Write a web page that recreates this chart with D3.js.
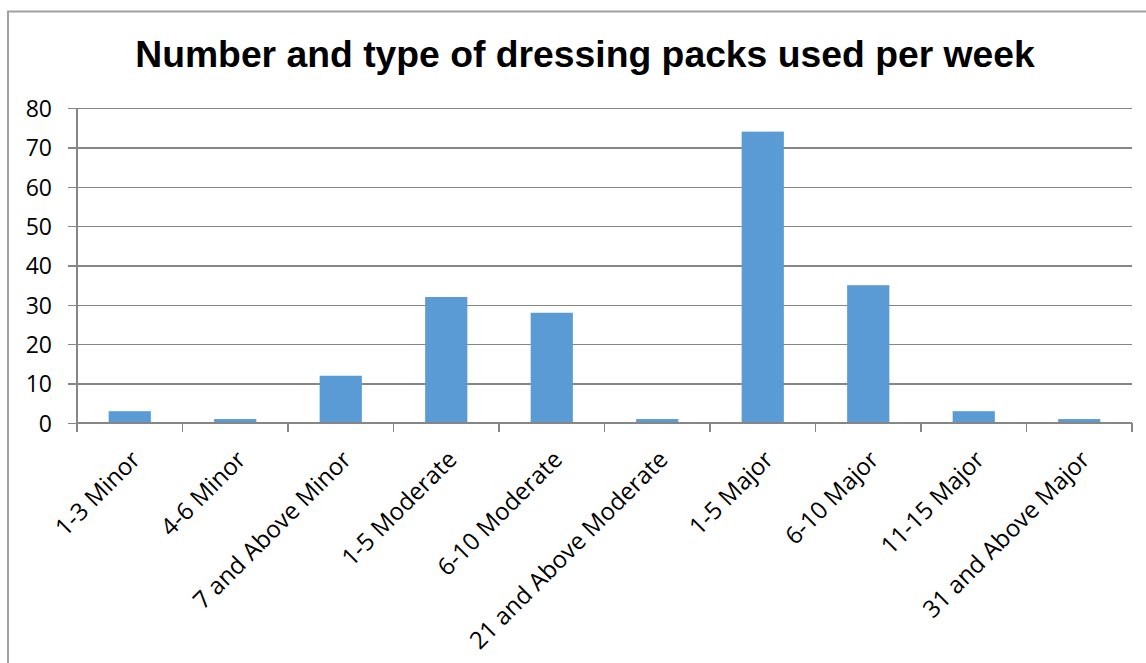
<!DOCTYPE html>
<html>
<head>
<meta charset="utf-8">
<script src="https://cdn.jsdelivr.net/npm/d3@7"></script>
<style>
  html, body { margin: 0; padding: 0; background: #fff; }
  svg { display: block; }
</style>
</head>
<body>
<svg id="chart" width="1146" height="663"></svg>
<script>
// Dressing pack usage per week, by pack size and type
const categories = [
  "1-3 Minor", "4-6 Minor", "7 and Above Minor",
  "1-5 Moderate", "6-10 Moderate", "21 and Above Moderate",
  "1-5 Major", "6-10 Major", "11-15 Major", "31 and Above Major"
];
const packCounts = [3, 1, 12, 32, 28, 1, 74, 35, 3, 1];
const yTicks = [0, 10, 20, 30, 40, 50, 60, 70, 80];
const chartTitle = "Number and type of dressing packs used per week";

const svg = d3.select("#chart");
const plot = { left: 77, right: 1132, top: 108, bottom: 423 };
const gridColor = "#868686";
const barColor = "#5B9BD5";
const labelFont = "'Open Sans', 'Liberation Sans', sans-serif";

// Chart frame (extends past the right and bottom edges of the view)
svg.append("rect")
  .attr("x", 8).attr("y", 11.5)
  .attr("width", 1160).attr("height", 700)
  .attr("fill", "#fff")
  .attr("stroke", "#a0a0a0")
  .attr("stroke-width", 2);

// Title
svg.append("text")
  .attr("x", 585).attr("y", 67)
  .attr("text-anchor", "middle")
  .attr("font-family", "'Liberation Sans', Arial, sans-serif")
  .attr("font-weight", "bold")
  .attr("font-size", 37.3)
  .attr("fill", "#000")
  .text(chartTitle);

const x = d3.scaleBand()
  .domain(categories)
  .range([plot.left, plot.right])
  .padding(0);

const y = d3.scaleLinear()
  .domain([0, 80])
  .range([plot.bottom, plot.top]);

// Horizontal gridlines with short ticks left of the axis
const yAxis = d3.axisLeft(y)
  .tickValues(yTicks)
  .tickSize(-(plot.right - plot.left))
  .tickPadding(0)
  .tickFormat(d3.format("d"));

const gy = svg.append("g")
  .attr("transform", `translate(${plot.left},0)`)
  .call(yAxis);
gy.select(".domain").remove();
gy.selectAll(".tick line")
  .attr("x1", -9)
  .attr("stroke", gridColor)
  .attr("stroke-width", 1.3)
  .attr("shape-rendering", "crispEdges");
gy.selectAll(".tick text")
  .attr("x", -25)
  .attr("dy", "0.36em")
  .attr("font-family", labelFont)
  .attr("font-size", 23)
  .attr("fill", "#000");

// Vertical axis line
svg.append("line")
  .attr("x1", plot.left).attr("x2", plot.left)
  .attr("y1", plot.top).attr("y2", plot.bottom)
  .attr("stroke", gridColor)
  .attr("stroke-width", 1.3)
  .attr("shape-rendering", "crispEdges");

// Bars
const barFrac = 0.4;
svg.append("g")
  .selectAll("rect")
  .data(categories)
  .join("rect")
  .attr("x", (d) => x(d) + x.bandwidth() * (1 - barFrac) / 2)
  .attr("width", x.bandwidth() * barFrac)
  .attr("y", (d, i) => y(packCounts[i]))
  .attr("height", (d, i) => y(0) - y(packCounts[i]))
  .attr("fill", barColor);

// Category axis: baseline and boundary ticks
const gx = svg.append("g")
  .attr("transform", `translate(0,${plot.bottom})`);
gx.append("line")
  .attr("x1", plot.left).attr("x2", plot.right)
  .attr("stroke", gridColor)
  .attr("stroke-width", 1.3)
  .attr("shape-rendering", "crispEdges");
const boundaries = categories.map((d) => x(d)).concat([plot.right]);
gx.selectAll("line.tick")
  .data(boundaries)
  .join("line")
  .attr("class", "tick")
  .attr("x1", (d) => d).attr("x2", (d) => d)
  .attr("y1", 0).attr("y2", 9)
  .attr("stroke", gridColor)
  .attr("stroke-width", 1.3)
  .attr("shape-rendering", "crispEdges");

// Rotated category labels
svg.append("g")
  .selectAll("text")
  .data(categories)
  .join("text")
  .attr("transform", (d) => `translate(${x(d) + x.bandwidth() / 2 + 12},${461}) rotate(-45)`)
  .attr("text-anchor", "end")
  .attr("font-family", labelFont)
  .attr("font-size", 24)
  .attr("fill", "#000")
  .text((d) => d);
</script>
</body>
</html>
